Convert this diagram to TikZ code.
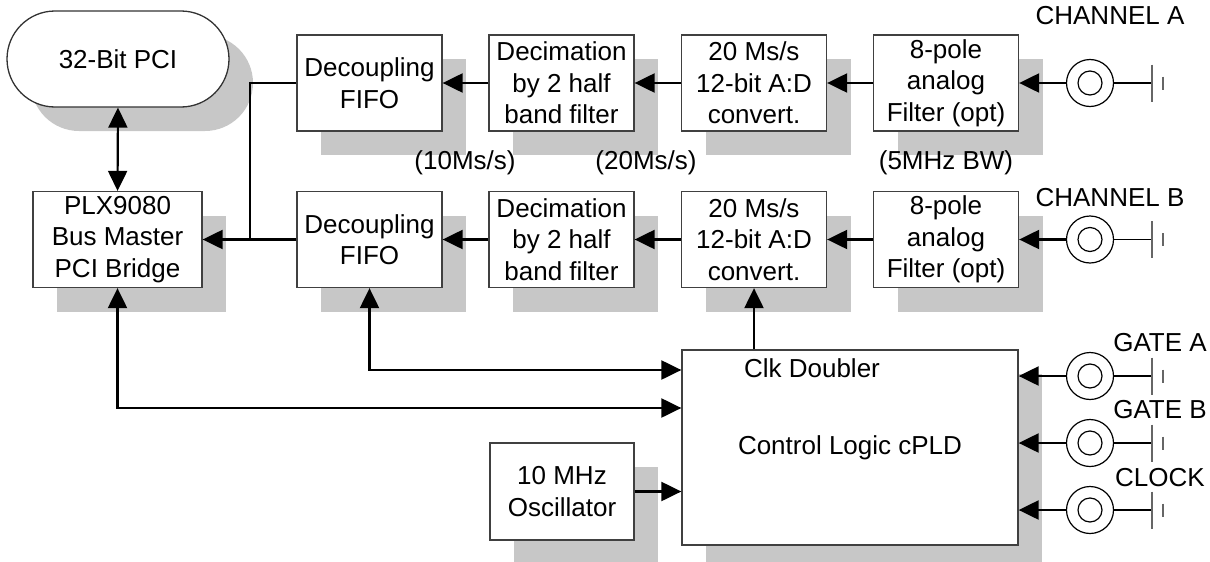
\documentclass[tikz,border=0pt]{standalone}
\usepackage{fontspec}
\setmainfont{Liberation Sans}
\usetikzlibrary{arrows.meta,shadows,shapes.misc}

\begin{document}
\begin{tikzpicture}[x=1pt,y=-1pt,
  txt/.style={font=\fontsize{26}{31.5}\selectfont, align=center, inner sep=0pt},
  shade box/.style={general shadow={shadow xshift=24pt, shadow yshift=-24pt, fill=black!22}},
  blk/.style={txt, draw=black!75, line width=1.3pt, fill=white, shade box,
              minimum width=145pt, minimum height=96pt},
  coax/.style={circle, draw=black, line width=1.2pt, minimum size=47pt, inner sep=0pt},
  wire/.style={line width=2.2pt},
  tip/.tip={Triangle[length=20pt,width=19pt]},
  arr/.style={wire, -tip},
  arrr/.style={wire, tip-tip},
  gnd/.style={draw=black!60, line width=1.4pt}]

\useasboundingbox (0,0) rectangle (1210,562);

% host side
\node[txt, rounded rectangle, draw=black!80, line width=1.3pt, fill=white, shade box,
      minimum width=222pt, minimum height=96pt] (pci) at (118,59) {32-Bit PCI};
\node[blk, minimum width=169pt] (plx) at (117.5,239.5) {PLX9080\\Bus Master\\PCI Bridge};

% channel A chain
\node[blk] (fifoA) at (369.5,83) {Decoupling\\FIFO};
\node[blk] (decA)  at (561.5,83) {Decimation\\by 2 half\\band filter};
\node[blk] (adcA)  at (754,83)   {20 Ms/s\\12-bit A:D\\convert.};
\node[blk] (filtA) at (946,83)   {8-pole\\analog\\Filter (opt)};

% channel B chain
\node[blk] (fifoB) at (369.5,239.5) {Decoupling\\FIFO};
\node[blk] (decB)  at (561.5,239.5) {Decimation\\by 2 half\\band filter};
\node[blk] (adcB)  at (754,239.5)   {20 Ms/s\\12-bit A:D\\convert.};
\node[blk] (filtB) at (946,239.5)   {8-pole\\analog\\Filter (opt)};

% control section
\node[blk, minimum width=336pt, minimum height=195pt] (ctrl) at (850,447.5) {};
\node[txt] (clkd) at (812,368) {Clk Doubler};
\node[txt] (cpld) at (ctrl.center) {Control Logic cPLD};
\node[blk, minimum width=144pt, minimum height=97pt] (osc) at (562,491.5) {10 MHz\\Oscillator};

% sample-rate notes
\node[txt] (r10) at (465,163) {(10Ms/s)};
\node[txt] (r20) at (646,163) {(20Ms/s)};
\node[txt] (bw)  at (946,163) {(5MHz BW)};

% input connectors with ground
\foreach \n/\yy in {cA/83, cB/239.5, gA/376, gB/443, ck/510} {
  \node[coax] (\n) at (1090,\yy) {};
  \draw[line width=1.2pt] (\n.center) circle (12pt);
  \draw[line width=1.2pt] (\n.east) -- ++(38pt,0) coordinate (\n g);
  \draw[gnd] ([yshift=18.5pt]\n g) -- ([yshift=-18.5pt]\n g);
  \draw[gnd] ([xshift=11pt,yshift=6.5pt]\n g) -- ([xshift=11pt,yshift=-6.5pt]\n g);
}
\node[txt] (lA)  at (1110,16)  {CHANNEL A};
\node[txt] (lB)  at (1110,198) {CHANNEL B};
\node[txt] (lgA) at (1160,343) {GATE A};
\node[txt] (lgB) at (1160,410) {GATE B};
\node[txt] (lck) at (1160,478) {CLOCK};

% signal paths
\draw[arr] (cA) -- (filtA.east);
\draw[arr] (filtA.west) -- (adcA.east);
\draw[arr] (adcA.west) -- (decA.east);
\draw[arr] (decA.west) -- (fifoA.east);
\draw[arr] (cB) -- (filtB.east);
\draw[arr] (filtB.west) -- (adcB.east);
\draw[arr] (adcB.west) -- (decB.east);
\draw[arr] (decB.west) -- (fifoB.east);

\coordinate (jn) at (250,239.5);
\draw[wire] (fifoA.west) -| (jn);
\draw[arr] (fifoB.west) -- (plx.east);
\draw[arrr] (pci.south) -- (plx.north);

% control paths
\draw[arr] (ctrl.north -| adcB.south) -- (adcB.south);
\draw[arrr] (fifoB.south) |- ([yshift=77.5pt]ctrl.west);
\draw[arrr] (plx.south) |- ([yshift=39.5pt]ctrl.west);
\draw[arr] (osc.east) -- (osc.east -| ctrl.west);
\draw[arr] (gA) -- (gA -| ctrl.east);
\draw[arr] (gB) -- (gB -| ctrl.east);
\draw[arr] (ck) -- (ck -| ctrl.east);
\end{tikzpicture}
\end{document}
